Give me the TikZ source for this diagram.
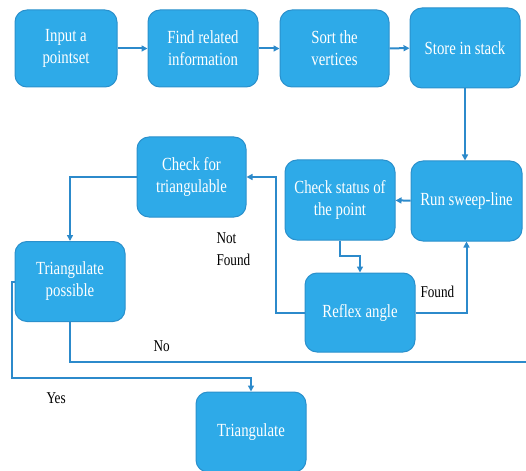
\documentclass[tikz,border=0pt]{standalone}
\usepackage{fontspec}
\newfontfamily\boxfont{Liberation Serif}[FakeStretch=0.8]
\usetikzlibrary{arrows.meta}
\definecolor{boxfill}{HTML}{2EAAE8}
\definecolor{boxedge}{HTML}{2A90CC}
\definecolor{linec}{HTML}{2C8ACB}
\tikzset{
  box/.style={draw=boxedge, line width=1pt, fill=boxfill, rounded corners=12pt,
    text=white, align=center, font=\boxfont\fontsize{18.5}{22}\selectfont, inner sep=2pt},
  conn/.style={draw=linec, line width=2pt, -{Triangle[length=6pt,width=6pt]}},
  plain/.style={draw=linec, line width=2pt},
  lbl/.style={font=\boxfont\fontsize{16.5}{22}\selectfont, text=black, align=left}
}
\begin{document}
\begin{tikzpicture}[x=1pt,y=-1pt]
\useasboundingbox (0,0) rectangle (526,470);
\clip (0,0) rectangle (526,470);
\node[box, minimum width=102pt, minimum height=77pt] (in) at (66,48.5) {Input a\\pointset};
\node[box, minimum width=110pt, minimum height=77pt] (find) at (203,48.5) {Find related\\information};
\node[box, minimum width=109pt, minimum height=77pt] (sort) at (334.5,48.5) {Sort the\\vertices};
\node[box, minimum width=110pt, minimum height=80pt] (store) at (465,48) {Store in stack};
\node[box, minimum width=111pt, minimum height=80pt] (run) at (466.5,201) {Run sweep-line};
\node[box, minimum width=110pt, minimum height=80pt] (status) at (340,200) {Check status of\\the point};
\node[box, minimum width=109pt, minimum height=80pt] (check) at (191.5,177) {Check for\\triangulable};
\node[box, minimum width=110pt, minimum height=80pt] (poss) at (70,281.5) {Triangulate\\possible};
\node[box, minimum width=110pt, minimum height=79pt] (reflex) at (360,312.5) {Reflex angle};
\node[box, minimum width=110pt, minimum height=80pt] (tri) at (251,432) {Triangulate};

\coordinate (noend) at (530,362);

\draw[conn] (in) -- (find);
\draw[conn] (find) -- (sort);
\draw[conn] (sort) -- (store);
\draw[conn] (store.south) -- (run.north -| store.south);
\draw[conn] (run) -- (status);
\draw[conn] (status.south) -- ++(0,15) -| (reflex.north);
\draw[conn] (reflex.east) -| (run.south);
\draw[conn] (reflex.west) -| (276,177) -- (check.east |- 0,177);
\draw[conn] (check.west) -| (poss.north);
\draw[plain] (poss.south) |- (noend);
\draw[conn] (poss.west) -- (12,281.5) |- (251,378) -- (tri.north);

\node[lbl, anchor=north west] (nf) at (213,229) {Not\\Found};
\node[lbl, anchor=west] (fd) at (417,292) {Found};
\node[lbl, anchor=west] (no) at (150,346) {No};
\node[lbl, anchor=west] (yes) at (43,398) {Yes};
\end{tikzpicture}
\end{document}
